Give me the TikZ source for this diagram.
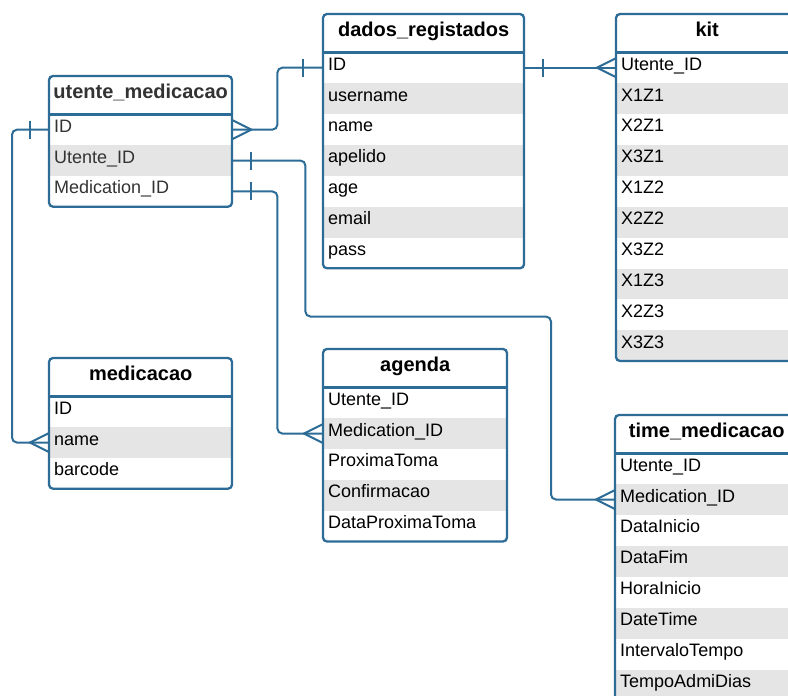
\documentclass[tikz,border=0pt]{standalone}
\usepackage{fontspec}
\setmainfont{Liberation Sans}
\usetikzlibrary{calc}

\definecolor{erblue}{RGB}{44,108,150}
\definecolor{rowgray}{RGB}{229,229,229}
\definecolor{utext}{RGB}{51,51,51}

\tikzset{
  tabletitle/.style={anchor=north west, inner sep=0pt, minimum height=38,
    font=\fontsize{20}{22}\selectfont\bfseries, text height=13pt, text depth=7pt,
    fill=white, align=center},
  field/.style={anchor=north west, inner xsep=5pt, inner ysep=0pt, minimum height=30.9,
    font=\fontsize{18}{20}\selectfont, text height=12pt, text depth=7pt, align=left},
  frame/.style={draw=erblue, line width=2.3pt, rounded corners=4pt},
  conn/.style={draw=erblue, line width=2pt},
  crow/.pic={\draw[conn] (0,-9.5) -- (19,0) -- (0,9.5);},
  onebar/.pic={\draw[conn] (0,-9) -- (0,9);},
}

% #1 name, #2 left, #3 top, #4 width, #5 number of fields, #6 title, #7 fields
\newcommand{\ertable}[7]{%
  \pgfmathsetmacro\fieldtw{#4-10}%
  \begin{scope}
    \clip[rounded corners=4pt] (#2,#3) rectangle ++(#4,38+30.9*#5);
    \node[tabletitle, minimum width=#4] (#1) at (#2,#3) {#6};
    \foreach \f [count=\i] in {#7} {
      \pgfmathsetmacro\rowy{#3+38+30.9*(\i-1)}
      \ifodd\i \def\rowfill{white}\else \def\rowfill{rowgray}\fi
      \node[field, minimum width=#4, text width=\fieldtw pt, fill=\rowfill]
        (#1-\i) at (#2,\rowy) {\f};
    }
  \end{scope}
  \draw[frame] (#2,#3) rectangle ++(#4,38+30.9*#5);
  \draw[frame, rounded corners=0pt] (#1.south west) -- (#1.south east);
}

\begin{document}
\begin{tikzpicture}[x=1pt, y=-1pt]
  \useasboundingbox (0,0) rectangle (788,696);
  \clip (0,0) rectangle (788,696);
  \fill[white] (0,0) rectangle (788,696);

  % tables
  \begin{scope}[every node/.append style={text=utext}]
    \ertable{utente}{49}{76}{183}{3}{utente\_medicacao}
      {ID, Utente\_ID, Medication\_ID}
  \end{scope}
  \ertable{dados}{323}{14}{201}{7}{dados\_registados}
    {ID, username, name, apelido, age, email, pass}
  \ertable{kit}{616}{14}{182}{10}{kit}
    {Utente\_ID, X1Z1, X2Z1, X3Z1, X1Z2, X2Z2, X3Z2, X1Z3, X2Z3, X3Z3}
  \ertable{medicacao}{49}{358}{183}{3}{medicacao}
    {ID, name, barcode}
  \ertable{agenda}{323}{349}{184}{5}{agenda}
    {Utente\_ID, Medication\_ID, ProximaToma, Confirmacao, DataProximaToma}
  \ertable{time}{615}{415}{183}{8}{time\_medicacao}
    {Utente\_ID, Medication\_ID, DataInicio, DataFim, HoraInicio, DateTime,
     IntervaloTempo, TempoAdmiDias}

  % relationships
  \draw[conn, rounded corners=5pt] (utente-1.east) -- ++(45,0) |- (dados-1.west);
  \pic at (utente-1.east) {crow};
  \pic at ($(dados-1.west)+(-20,0)$) {onebar};

  \draw[conn] (dados-1.east) -- (kit-1.west);
  \pic at ($(dados-1.east)+(19,0)$) {onebar};
  \pic[xscale=-1] at (kit-1.west) {crow};

  \draw[conn, rounded corners=5pt] (utente-1.west) -- ++(-37,0) |- (medicacao-2.west);
  \pic at ($(utente-1.west)+(-19,0)$) {onebar};
  \pic[xscale=-1] at (medicacao-2.west) {crow};

  \draw[conn, rounded corners=5pt] (utente-2.east) -- ++(73,0) -- ++(0,156)
    -| ($(time-2.west)+(-64,0)$) -- (time-2.west);
  \pic at ($(utente-2.east)+(19,0)$) {onebar};
  \pic[xscale=-1] at (time-2.west) {crow};

  \draw[conn, rounded corners=5pt] (utente-3.east) -- ++(45,0) |- (agenda-2.west);
  \pic at ($(utente-3.east)+(19,0)$) {onebar};
  \pic[xscale=-1] at (agenda-2.west) {crow};
\end{tikzpicture}
\end{document}
